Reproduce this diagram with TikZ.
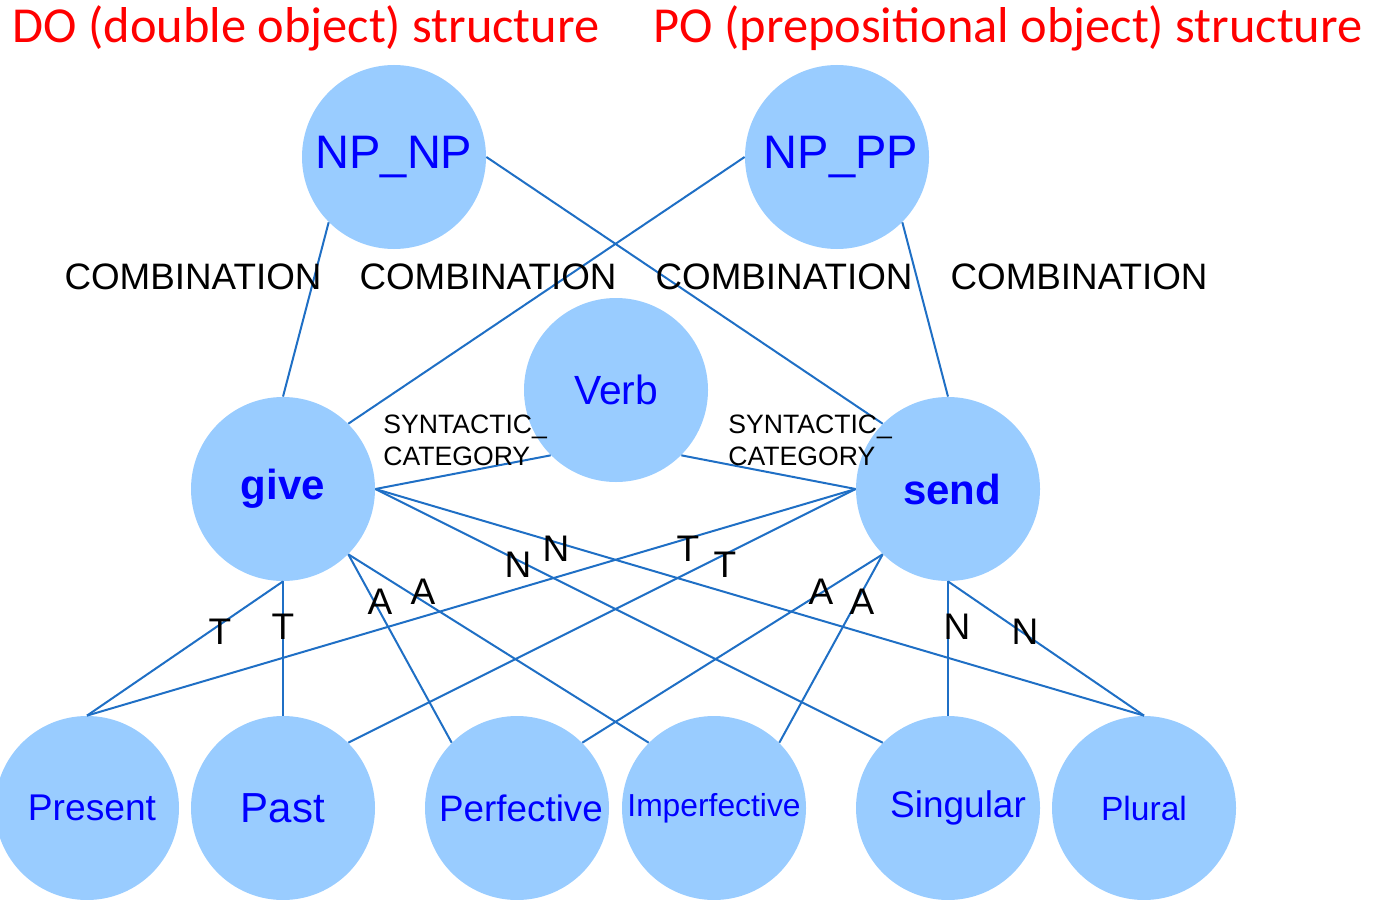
\documentclass[tikz,border=0pt]{standalone}
\usepackage{fontspec}
\setmainfont{Liberation Sans}
\newfontfamily\titlefont{Carlito}
\definecolor{bubble}{HTML}{99CCFF}
\definecolor{wordblue}{HTML}{0000FF}
\definecolor{linkblue}{HTML}{1F6FC5}
\definecolor{titlered}{HTML}{FF0000}
\begin{document}
\begin{tikzpicture}[x=0.5pt,y=-0.5pt,
  bubble/.style={circle,fill=bubble,minimum size=92pt,inner sep=0pt,text=wordblue},
  link/.style={draw=linkblue,line width=1pt},
  relword/.style={font=\fontsize{18.4}{20}\selectfont,inner sep=0pt},
  tag/.style={font=\fontsize{18.5}{20}\selectfont,inner sep=0pt},
  catword/.style={font=\fontsize{13.3}{16}\selectfont,inner sep=0pt,anchor=west,align=left},
  heading/.style={font=\titlefont\fontsize{25.2}{28}\selectfont,text=titlered,inner sep=0pt}]
\useasboundingbox (0,0) rectangle (1379,899);

% headings
\node[heading] (hdo) at (306,28) {DO (double object) structure};
\node[heading] (hpo) at (1008,28) {PO (prepositional object) structure};

% structure nodes
\node[bubble,font=\fontsize{23.5}{26}\selectfont] (npnp) at (394,157) {NP\_NP};
\node[bubble,font=\fontsize{23.5}{26}\selectfont] (nppp) at (837,157) {\kern4pt NP\_PP};

% verb nodes
\node[bubble,font=\fontsize{20.4}{24}\selectfont] (verb) at (616,390) {Verb};
\node[bubble,font=\bfseries\fontsize{21}{24}\selectfont] (give) at (283,489) {give};
\node[bubble,font=\bfseries\fontsize{21}{24}\selectfont] (send) at (948,489) {\kern4pt send};

% feature nodes
\node[bubble,font=\fontsize{18.6}{22}\selectfont] (present) at (87,808) {\kern5pt Present};
\node[bubble,font=\fontsize{21}{24}\selectfont] (past) at (283,808) {Past};
\node[bubble,font=\fontsize{18.4}{22}\selectfont] (perf) at (517,808) {\kern4pt Perfective};
\node[bubble,font=\fontsize{15.9}{20}\selectfont] (imperf) at (714,808) {Imperfective};
\node[bubble,font=\fontsize{18.5}{22}\selectfont] (sing) at (948,808) {\kern10pt Singular};
\node[bubble,font=\fontsize{16.8}{20}\selectfont] (plural) at (1144,808) {Plural};

% combination links
\draw[link] (npnp.225) -- (give.90);
\draw[link] (npnp.0) -- (send.135);
\draw[link] (nppp.180) -- (give.45);
\draw[link] (nppp.-45) -- (send.90);

% category links
\draw[link] (verb.225) -- (give.0);
\draw[link] (verb.-45) -- (send.180);

% feature links from give
\draw[link] (give.270) -- (present.90);
\draw[link] (give.270) -- (past.90);
\draw[link] (give.-45) -- (perf.135);
\draw[link] (give.-45) -- (imperf.135);
\draw[link] (give.0) -- (sing.135);
\draw[link] (give.0) -- (plural.90);

% feature links from send
\draw[link] (send.180) -- (present.90);
\draw[link] (send.180) -- (past.45);
\draw[link] (send.225) -- (perf.45);
\draw[link] (send.225) -- (imperf.45);
\draw[link] (send.270) -- (sing.90);
\draw[link] (send.270) -- (plural.90);

% relation labels
\node[relword] (c1) at (193,277) {COMBINATION};
\node[relword] (c2) at (488,277) {COMBINATION};
\node[relword] (c3) at (784,277) {COMBINATION};
\node[relword] (c4) at (1079,277) {COMBINATION};
\node[catword] (s1) at (383,440) {SYNTACTIC\_\\CATEGORY};
\node[catword] (s2) at (728,440) {SYNTACTIC\_\\CATEGORY};

% feature tags
\node[tag] (t1) at (220,632) {T};
\node[tag] (t2) at (283,627) {T};
\node[tag] (a1) at (380,602) {A};
\node[tag] (a2) at (423,592) {A};
\node[tag] (n1) at (518,565) {N};
\node[tag] (n2) at (556,549) {N};
\node[tag] (t3) at (688,549) {T};
\node[tag] (t4) at (725,565) {T};
\node[tag] (a3) at (821,592) {A};
\node[tag] (a4) at (862,602) {A};
\node[tag] (n3) at (957,627) {N};
\node[tag] (n4) at (1025,632) {N};
\end{tikzpicture}
\end{document}
